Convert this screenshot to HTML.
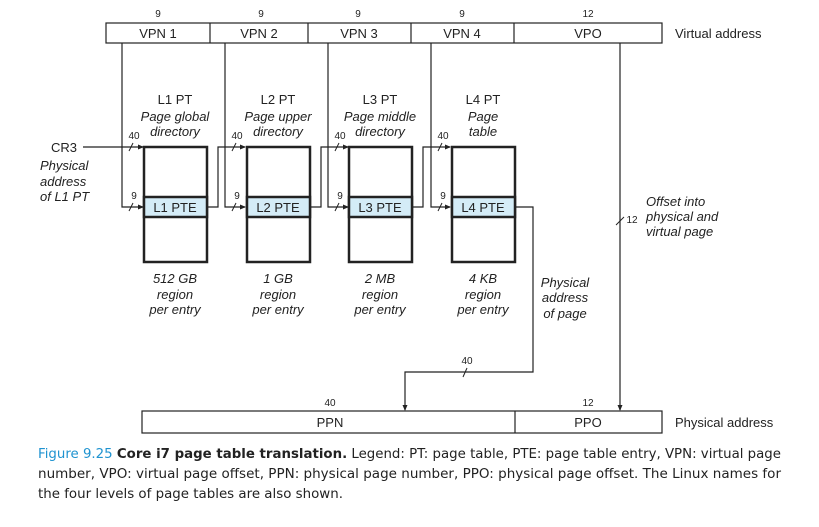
<!DOCTYPE html>
<html><head><meta charset="utf-8"><style>
html,body{margin:0;padding:0;background:#fff;width:819px;height:527px;overflow:hidden}
svg{display:block}
text{font-family:"Liberation Sans",Arial,sans-serif;fill:#222}
.it{font-style:italic}
.cap{font-family:"DejaVu Sans","Liberation Sans",sans-serif;font-size:13px;fill:#222}
</style></head><body>
<svg width="819" height="527" viewBox="0 0 819 527" xmlns="http://www.w3.org/2000/svg">
<defs><marker id="a" markerWidth="6" markerHeight="6" refX="5" refY="3" orient="auto" markerUnits="userSpaceOnUse"><path d="M0,0.5 L6,3 L0,5.5z" fill="#222"/></marker></defs>
<g stroke="#222" stroke-width="1.2" fill="none">
<rect x="106" y="23" width="556" height="20"/>
<line x1="210" y1="23" x2="210" y2="43"/><line x1="308" y1="23" x2="308" y2="43"/>
<line x1="411" y1="23" x2="411" y2="43"/><line x1="514" y1="23" x2="514" y2="43"/>
<rect x="142" y="411" width="520" height="22"/><line x1="515" y1="411" x2="515" y2="433"/>
<!-- VPN connectors -->
<polyline points="122,43 122,207 143,207" marker-end="url(#a)"/>
<polyline points="225,43 225,207 245,207" marker-end="url(#a)"/>
<polyline points="328,43 328,207 348,207" marker-end="url(#a)"/>
<polyline points="431,43 431,207 450,207" marker-end="url(#a)"/>
<!-- CR3 -->
<polyline points="83,147 143,147" marker-end="url(#a)"/>
<polyline points="208,207 218,207 218,147 245,147" marker-end="url(#a)"/>
<polyline points="311,207 321,207 321,147 348,147" marker-end="url(#a)"/>
<polyline points="413,207 423,207 423,147 450,147" marker-end="url(#a)"/>
<polyline points="516,207 533,207 533,372 405,372 405,410" marker-end="url(#a)"/>
<polyline points="620,43 620,410" marker-end="url(#a)"/>
<!-- slashes -->
<g stroke-width="1">
<line x1="129" y1="151" x2="133" y2="143"/><line x1="129" y1="211" x2="133" y2="203"/>
<line x1="232" y1="151" x2="236" y2="143"/><line x1="232" y1="211" x2="236" y2="203"/>
<line x1="335" y1="151" x2="339" y2="143"/><line x1="335" y1="211" x2="339" y2="203"/>
<line x1="438" y1="151" x2="442" y2="143"/><line x1="438" y1="211" x2="442" y2="203"/>
<line x1="463" y1="377" x2="467" y2="368"/><line x1="616" y1="225" x2="624" y2="217"/>
</g>
</g>
<!-- tables -->
<g stroke="#222" stroke-width="2.5">
<rect x="144" y="147" width="63" height="115" fill="#fff"/><rect x="144" y="197" width="63" height="20" fill="#d4ecf7"/>
<rect x="247" y="147" width="63" height="115" fill="#fff"/><rect x="247" y="197" width="63" height="20" fill="#d4ecf7"/>
<rect x="349" y="147" width="63" height="115" fill="#fff"/><rect x="349" y="197" width="63" height="20" fill="#d4ecf7"/>
<rect x="452" y="147" width="63" height="115" fill="#fff"/><rect x="452" y="197" width="63" height="20" fill="#d4ecf7"/>
</g>
<g font-size="13" text-anchor="middle">
<text x="175" y="212">L1 PTE</text><text x="278" y="212">L2 PTE</text><text x="380" y="212">L3 PTE</text><text x="483" y="212">L4 PTE</text>
<text x="158" y="38">VPN 1</text><text x="259" y="38">VPN 2</text><text x="359" y="38">VPN 3</text><text x="462" y="38">VPN 4</text><text x="588" y="38">VPO</text>
<text x="330" y="427">PPN</text><text x="588" y="427">PPO</text>
<text x="175" y="104">L1 PT</text><text x="278" y="104">L2 PT</text><text x="380" y="104">L3 PT</text><text x="483" y="104">L4 PT</text>
<g class="it">
<text x="175" y="121" class="it">Page global</text><text x="175" y="136" class="it">directory</text>
<text x="278" y="121" class="it">Page upper</text><text x="278" y="136" class="it">directory</text>
<text x="380" y="121" class="it">Page middle</text><text x="380" y="136" class="it">directory</text>
<text x="483" y="121" class="it">Page</text><text x="483" y="136" class="it">table</text>
<text x="175" y="283" class="it">512 GB</text><text x="175" y="299" class="it">region</text><text x="175" y="314" class="it">per entry</text>
<text x="278" y="283" class="it">1 GB</text><text x="278" y="299" class="it">region</text><text x="278" y="314" class="it">per entry</text>
<text x="380" y="283" class="it">2 MB</text><text x="380" y="299" class="it">region</text><text x="380" y="314" class="it">per entry</text>
<text x="483" y="283" class="it">4 KB</text><text x="483" y="299" class="it">region</text><text x="483" y="314" class="it">per entry</text>
<text x="565" y="287" class="it">Physical</text><text x="565" y="302" class="it">address</text><text x="565" y="318" class="it">of page</text>
</g>
</g>
<g font-size="13">
<text x="51" y="152">CR3</text>
<text x="40" y="170" class="it">Physical</text><text x="40" y="186" class="it">address</text><text x="40" y="201" class="it">of L1 PT</text>
<text x="646" y="206" class="it">Offset into</text><text x="646" y="221" class="it">physical and</text><text x="646" y="236" class="it">virtual page</text>
<text x="675" y="38">Virtual address</text><text x="675" y="427">Physical address</text>
</g>
<g font-size="10" text-anchor="middle">
<text x="158" y="17">9</text><text x="261" y="17">9</text><text x="358" y="17">9</text><text x="462" y="17">9</text><text x="588" y="17">12</text>
<text x="134" y="139">40</text><text x="237" y="139">40</text><text x="340" y="139">40</text><text x="443" y="139">40</text>
<text x="134" y="199">9</text><text x="237" y="199">9</text><text x="340" y="199">9</text><text x="443" y="199">9</text>
<text x="467" y="364">40</text><text x="330" y="406">40</text><text x="588" y="406">12</text><text x="632" y="223">12</text>
</g>
<text class="cap" x="38" y="458" textLength="743" lengthAdjust="spacingAndGlyphs"><tspan fill="#1f93d0">Figure 9.25</tspan>   <tspan font-weight="bold">Core i7 page table translation.</tspan> Legend: PT: page table, PTE: page table entry, VPN: virtual page</text>
<text class="cap" x="38" y="478" textLength="743" lengthAdjust="spacingAndGlyphs">number, VPO: virtual page offset, PPN: physical page number, PPO: physical page offset. The Linux names for</text>
<text class="cap" x="38" y="498" textLength="305" lengthAdjust="spacingAndGlyphs">the four levels of page tables are also shown.</text>
</svg>
</body></html>
